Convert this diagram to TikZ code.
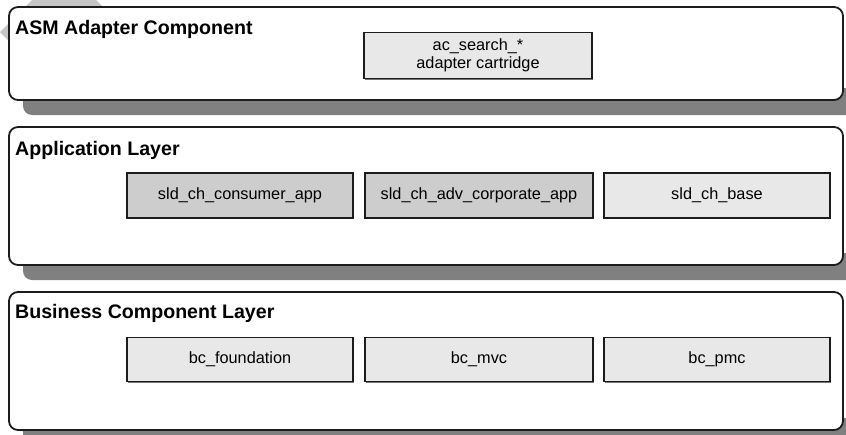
\documentclass[tikz,border=0pt]{standalone}
\usepackage{fontspec}
\setmainfont{Liberation Sans}
\usetikzlibrary{shadows}
\definecolor{edge}{HTML}{1C1C1C}
\definecolor{shadowgray}{HTML}{808080}
\definecolor{boxlight}{HTML}{E8E8E8}
\definecolor{boxdark}{HTML}{CDCDCD}
\definecolor{bgshape}{HTML}{C6C6C6}
\tikzset{
  layerbox/.style={draw=edge, line width=1.8pt, rounded corners=9pt, fill=white,
    inner sep=0pt, outer sep=0pt, minimum width=834pt},
  layershadow/.style={fill=shadowgray, rounded corners=9pt},
  layertitle/.style={anchor=base west, inner sep=0pt, font=\bfseries\fontsize{19.6}{22}\selectfont},
  compbox/.style={draw=edge, line width=1.3pt, inner sep=0pt, outer sep=0pt,
    minimum height=45pt, font=\fontsize{16.3}{18.3}\selectfont, align=center,
    drop shadow={shadow xshift=1.3pt, shadow yshift=-1.3pt, fill=black, opacity=0.55}},
  light/.style={fill=boxlight},
  dark/.style={fill=boxdark}
}
\begin{document}
\begin{tikzpicture}[x=1pt,y=-1pt]
\useasboundingbox (0,0) rectangle (846,434);
\clip (0,0) rectangle (846,434);
% background grey shape partly hidden
\fill[bgshape] (0,32) -- (32,0) -- (96,0) -- (104,8) -- (104,50) -- (18,50) -- cycle;
% shadows
\fill[layershadow] (23,88) rectangle (880,115);
\fill[layershadow] (23,253) rectangle (880,280);
\fill[layershadow] (23,418) rectangle (880,445);
% layers
\node[layerbox, minimum height=93pt] (asmlayer) at (426,53.5) {};
\node[layerbox, minimum height=138pt] (applayer) at (426,196) {};
\node[layerbox, minimum height=138pt] (bclayer) at (426,361) {};
% titles
\node[layertitle] (asmtitle) at (15,34) {ASM Adapter Component};
\node[layertitle] (apptitle) at (15,155) {Application Layer};
\node[layertitle] (bctitle) at (15,318.5) {Business Component Layer};
% components
\node[compbox, light, minimum width=228pt, minimum height=45.5pt] (acsearch) at (478,55.5) {ac\_search\_*\\adapter cartridge};
\node[compbox, dark, minimum width=226pt] (consumer) at (240,195.5) {sld\_ch\_consumer\_app};
\node[compbox, dark, minimum width=228pt] (corporate) at (479,195.5) {sld\_ch\_adv\_corporate\_app};
\node[compbox, light, minimum width=226pt] (base) at (717,195.5) {sld\_ch\_base};
\node[compbox, light, minimum width=226pt, minimum height=44.5pt] (foundation) at (240,359.5) {bc\_foundation};
\node[compbox, light, minimum width=228pt, minimum height=44.5pt] (mvc) at (479,359.5) {bc\_mvc};
\node[compbox, light, minimum width=226pt, minimum height=44.5pt] (pmc) at (717,359.5) {bc\_pmc};
\end{tikzpicture}
\end{document}
